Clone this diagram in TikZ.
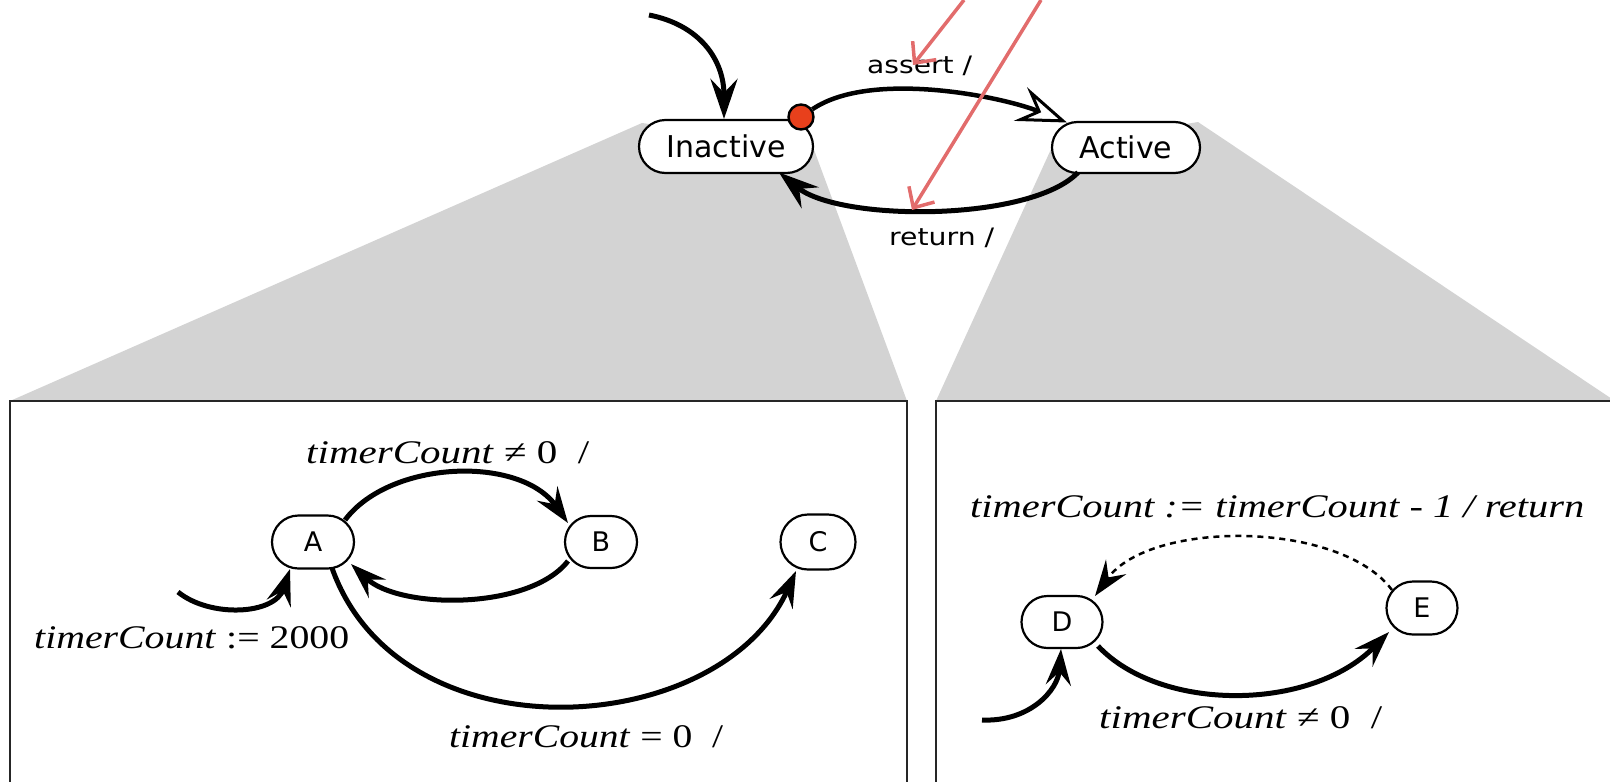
\documentclass[tikz,border=0pt]{standalone}
\usepackage{fontspec}
\setmainfont{Liberation Serif}
\newfontfamily\dvs{DejaVu Sans}
\usetikzlibrary{arrows.meta,shapes.misc}
\newcommand{\fitw}[2]{\resizebox{#1}{\height}{#2}}
\definecolor{graybg}{RGB}{211,211,211}
\definecolor{dotred}{RGB}{232,64,28}
\definecolor{annot}{RGB}{226,108,108}
\begin{document}
\begin{tikzpicture}[x=1pt,y=-1pt,
 bigstate/.style={rounded rectangle, draw, line width=2.2pt, fill=white, inner sep=0pt, font=\dvs\fontsize{30}{36}\selectfont},
 smallstate/.style={rounded rectangle, draw, line width=2.2pt, fill=white, inner sep=0pt, font=\dvs\fontsize{27}{32}\selectfont},
 toplbl/.style={inner sep=0pt, anchor=base west, font=\dvs\fontsize{24}{28}\selectfont},
 itlbl/.style={inner sep=0pt, anchor=base west, font=\fontsize{33}{38}\selectfont},
 topconn/.style={line width=5pt, -{Stealth[length=40pt,width=27pt,inset=14pt]}},
 openconn/.style={line width=4.5pt, -{Stealth[length=50pt,width=36pt,inset=18pt,fill=white,line width=3pt]}},
 conn/.style={line width=5pt, -{Stealth[length=36pt,width=25pt,inset=13pt]}},
 dashconn/.style={line width=2.5pt, dash pattern=on 6pt off 5pt, -{Stealth[length=36pt,width=25pt,inset=13pt]}},
 annotarrow/.style={draw=annot, line width=3.5pt, -{Straight Barb[length=16pt,width=30pt]}},
 panel/.style={draw=black!85, line width=2.4pt, fill=white},
 grayfan/.style={fill=graybg, draw=none}
]
\useasboundingbox (0,0) rectangle (1610,782);
\clip (0,0) rectangle (1610,782);

% gray fans
\fill[grayfan] (642,123) -- (10,401) -- (907,401) -- (813,147) -- cycle;
\fill[grayfan] (1052,147) -- (936,401) -- (1615,401) -- (1198,122) -- cycle;

% panels
\draw[panel] (10,401) rectangle (907,820);
\draw[panel] (936,401) rectangle (1630,820);

% top states
\node[bigstate, minimum width=174pt, minimum height=53pt] (Inactive) at (726,146.5) {Inactive};
\node[bigstate, minimum width=148pt, minimum height=51pt] (Active) at (1126,147.5) {Active};
\node[circle, draw, line width=2.4pt, fill=dotred, minimum size=25pt, inner sep=0pt] (dot) at (801,117) {};

% left panel states
\node[smallstate, minimum width=82pt, minimum height=53pt] (A) at (313,542) {A};
\node[smallstate, minimum width=72pt, minimum height=52pt] (B) at (601,542) {B};
\node[smallstate, minimum width=75pt, minimum height=55pt] (C) at (818,542) {C};

% right panel states
\node[smallstate, minimum width=81pt, minimum height=52pt] (D) at (1062,622) {D};
\node[smallstate, minimum width=71pt, minimum height=53pt] (E) at (1422,608) {E};

% free ends
\coordinate (init0) at (649,15);
\coordinate (initA) at (178,592);
\coordinate (initD) at (982,720);

% top connectors
\draw[topconn] (init0) .. controls (700,25) and (724,60) .. ([xshift=-2pt]Inactive.north);
\draw[openconn] (dot) .. controls (870,70) and (1000,96) .. ([xshift=-59pt,yshift=25pt]Active.center);
\draw[topconn] ([xshift=-48pt,yshift=-25pt]Active.center) .. controls (1030,222) and (840,222) .. ([xshift=53pt,yshift=-26pt]Inactive.center);

% left panel connectors
\draw[conn] (initA) .. controls (210,618) and (275,615) .. ([xshift=-23pt,yshift=-27pt]A.center);
\draw[conn] ([xshift=32pt,yshift=22pt]A.center) .. controls (390,460) and (520,455) .. ([xshift=-33pt,yshift=19pt]B.center);
\draw[conn] ([xshift=-33pt,yshift=-19pt]B.center) .. controls (530,610) and (400,610) .. ([xshift=38pt,yshift=-22pt]A.center);
\draw[conn] ([xshift=19pt,yshift=-26pt]A.center) .. controls (400,760) and (720,740) .. ([xshift=-22pt,yshift=-29pt]C.center);

% right panel connectors
\draw[conn] (initD) .. controls (1030,722) and (1058,690) .. ([xshift=-1pt,yshift=-27pt]D.center);
\draw[conn] ([xshift=36pt,yshift=-24pt]D.center) .. controls (1160,712) and (1310,712) .. ([xshift=-33pt,yshift=-24pt]E.center);
\draw[dashconn] ([xshift=-30pt,yshift=18pt]E.center) .. controls (1340,520) and (1150,520) .. ([xshift=33pt,yshift=26pt]D.center);

% labels
\node[toplbl] (lassert) at (867,73) {\fitw{105pt}{assert /}};
\node[toplbl] (lreturn) at (889,245) {\fitw{105pt}{return /}};
\node[itlbl] (lab) at (306,463) {\fitw{283pt}{\textit{timerCount} ≠ 0 \ /}};
\node[itlbl] (linitA) at (34,648) {\fitw{315pt}{\textit{timerCount} := 2000}};
\node[itlbl] (lac) at (449,747) {\fitw{274pt}{\textit{timerCount} = 0 \ /}};
\node[itlbl] (led) at (970,517) {\fitw{614pt}{\textit{timerCount := timerCount - 1 / return}}};
\node[itlbl] (lde) at (1099,728) {\fitw{283pt}{\textit{timerCount} ≠ 0 \ /}};

% annotation arrows
\coordinate (r1s) at (964,0);
\coordinate (r1e) at (913,65);
\coordinate (r2s) at (1041,0);
\coordinate (r2e) at (912,210);
\draw[annotarrow] (r1s) -- (r1e);
\draw[annotarrow] (r2s) -- (r2e);
\end{tikzpicture}
\end{document}
